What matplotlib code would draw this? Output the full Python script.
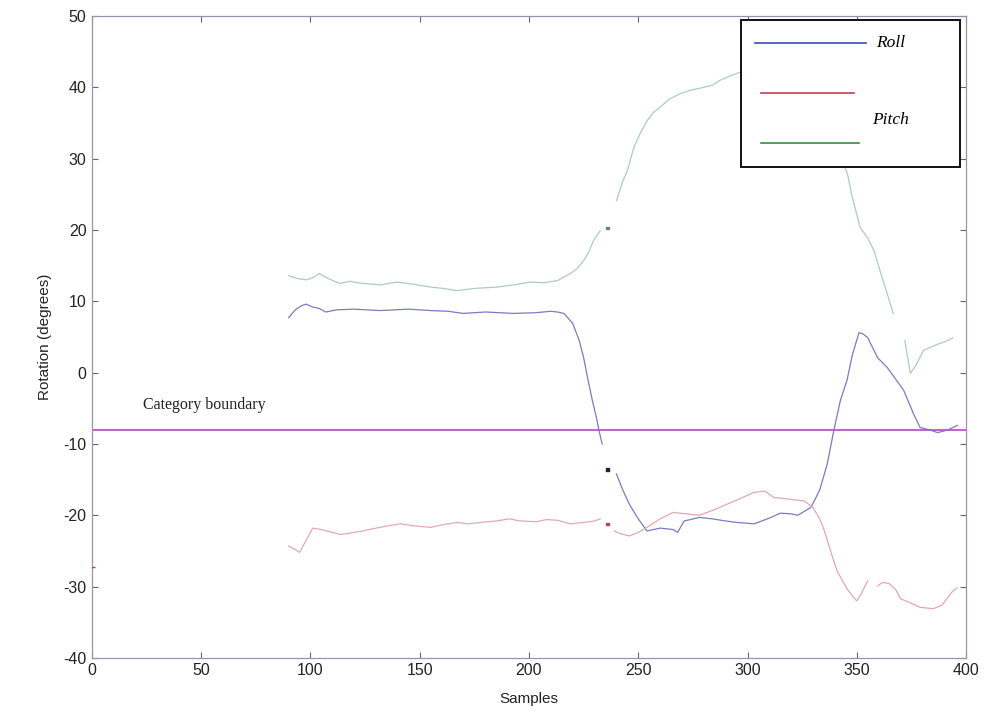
import numpy as np
import matplotlib.pyplot as plt
from matplotlib.patches import Rectangle

plt.rcParams['axes.unicode_minus'] = False
nan = np.nan

# Roll (blue)
roll_x = [90, 93, 96, 98, 101, 104, 107, 112, 120, 132, 145, 155, 163, 170, 180, 193, 203, 210, 213, 216,
          220, 223, 225, 227, 229, 231, 232, 233.5, 236, 240, 243, 246, 250, 254, 260, 266, 268, 271,
          278, 284, 290, 295, 303, 310, 315, 320, 323, 329, 333, 336.5, 339.5, 342.5, 345.5, 348, 351,
          353, 355, 359.5, 364, 368, 371.5, 376, 379, 383, 387, 391, 394, 396]
roll_y = [7.7, 8.8, 9.4, 9.6, 9.2, 9.0, 8.5, 8.8, 8.9, 8.7, 8.9, 8.7, 8.6, 8.3, 8.5, 8.3, 8.4, 8.6, 8.5, 8.3,
          6.9, 4.5, 2.1, -1.0, -3.9, -6.5, -8.1, -10.0, nan, -14.2, -16.5, -18.5, -20.5, -22.2, -21.8, -22.0, -22.4, -20.8,
          -20.3, -20.5, -20.8, -21.0, -21.2, -20.4, -19.7, -19.8, -20.0, -18.9, -16.5, -12.8, -8.1, -3.9, -1.1, 2.5, 5.6,
          5.4, 4.9, 2.1, 0.7, -1.0, -2.5, -5.8, -7.7, -8.0, -8.4, -8.1, -7.7, -7.4]

# Pitch (red)
pitch_x = [90, 93, 95, 98, 101, 105, 110, 113.5, 118, 124, 130, 135, 141, 148, 155, 161, 167, 172, 178,
           185, 191, 196, 203.5, 208, 213, 219, 225, 230, 232.6, 236, 239, 242, 246, 250, 255, 260, 266,
           272, 278, 285, 291, 297, 303, 308, 312, 318, 326, 330, 333, 335, 338, 341, 344, 346, 348.5,
           350, 352, 355, 357, 359.5, 362, 365, 368, 370, 374, 379, 385, 389, 394, 396]
pitch_y = [-24.3, -24.8, -25.2, -23.5, -21.8, -22.0, -22.4, -22.7, -22.5, -22.2, -21.8, -21.5, -21.2, -21.5, -21.7, -21.3, -21.0, -21.2, -21.0,
           -20.8, -20.5, -20.8, -20.9, -20.6, -20.7, -21.2, -21.0, -20.8, -20.5, nan, -22.2, -22.6, -22.9, -22.4, -21.5, -20.5, -19.6,
           -19.8, -20.0, -19.2, -18.4, -17.6, -16.8, -16.6, -17.5, -17.7, -18.0, -18.9, -20.5, -22.0, -25.0, -27.8, -29.5, -30.5, -31.5,
           -32.0, -31.0, -29.2, nan, -29.9, -29.4, -29.6, -30.5, -31.7, -32.2, -32.9, -33.1, -32.6, -30.6, -30.2]

# third axis (green)
yaw_x = [90, 94, 98, 101, 104, 108, 113.5, 118, 124, 132, 139.5, 147, 155, 161, 167, 175, 185.5, 193, 200.5,
         207, 213, 219, 222, 225, 227.5, 229.5, 232.6, 236, 240, 243, 245, 248, 251, 254, 257, 260, 264,
         269, 274, 280, 284, 287.5, 292, 296.5, 305, 315, 325, 335, 340, 345.7, 348, 351.6, 355, 358,
         361, 364, 366.7, 370, 372, 374.5, 377, 380.5, 384, 388, 391, 394]
yaw_y = [13.6, 13.2, 13.0, 13.3, 13.9, 13.2, 12.5, 12.8, 12.5, 12.3, 12.7, 12.4, 12.0, 11.8, 11.5, 11.8, 12.0, 12.3, 12.7,
         12.6, 12.9, 13.9, 14.6, 15.7, 17.0, 18.5, 19.9, nan, 24.1, 26.9, 28.3, 31.6, 33.6, 35.3, 36.5, 37.2, 38.3,
         39.1, 39.6, 40.0, 40.3, 41.0, 41.6, 42.1, 42.5, 42.0, 40.0, 36.0, 32.0, 27.9, 24.5, 20.3, 18.9, 17.0,
         13.9, 11.0, 8.3, nan, 4.5, -0.1, 1.0, 3.1, 3.6, 4.1, 4.4, 4.9]

# isolated samples around the gap
dots_x = [236, 236, 236]
dots_y = [20.3, -13.6, -21.2]
dot_colors = ['#6a8a78', '#202040', '#c04060']

boundary = -8

fig = plt.figure(figsize=(9.91, 7.27), dpi=100)
ax = fig.add_axes([0.0928, 0.095, 0.882, 0.883])

ax.axhline(boundary, color='#c050c8', linewidth=1.3, zorder=2)
ax.plot(yaw_x, yaw_y, color='#aecdbb', linewidth=0.9, zorder=3)
ax.plot(roll_x, roll_y, color='#7b7bc0', linewidth=0.9, zorder=3)
ax.plot(pitch_x, pitch_y, color='#e3a7b7', linewidth=0.9, zorder=3)
ax.scatter(dots_x, dots_y, s=3, c=dot_colors, marker='s', zorder=4)
ax.plot([0], [-27.3], marker='_', color='#c04050', markersize=5, zorder=4)

ax.text(23.5, -4.6, 'Category boundary', family='Liberation Serif', fontsize=11.5,
        va='center', ha='left', color='#222222')

ax.set_xlim(0, 400)
ax.set_ylim(-40, 50)
ax.set_xticks(np.arange(0, 401, 50))
ax.set_yticks(np.arange(-40, 51, 10))
ax.tick_params(direction='in', length=4, top=True, right=True, labelsize=11.5,
               color='#666666', labelcolor='#222222', pad=4)
for lbl in ax.get_xticklabels() + ax.get_yticklabels():
    lbl.set_family('Liberation Sans')
for sp in ax.spines.values():
    sp.set_color('#9a90b0')
    sp.set_linewidth(0.9)

ax.set_xlabel('Samples', family='Liberation Sans', fontsize=11, color='#222222', labelpad=10)
ax.set_ylabel('Rotation (degrees)', family='Liberation Sans', fontsize=11, color='#222222', labelpad=8)

# hand-drawn legend box
tr = ax.transAxes
ax.add_patch(Rectangle((0.743, 0.765), 0.25, 0.229, transform=tr, facecolor='white',
                       edgecolor='#111111', linewidth=1.4, zorder=6))
ax.plot([0.758, 0.885], [0.958, 0.958], transform=tr, color='#3a4fb0', linewidth=1.2, zorder=7)
ax.plot([0.766, 0.872], [0.880, 0.880], transform=tr, color='#c83a50', linewidth=1.2, zorder=7)
ax.plot([0.766, 0.877], [0.802, 0.802], transform=tr, color='#3a8a40', linewidth=1.2, zorder=7)
ax.text(0.897, 0.958, 'Roll', transform=tr, family='Liberation Serif', style='italic',
        fontsize=12.5, va='center', ha='left', zorder=8)
ax.text(0.892, 0.838, 'Pitch', transform=tr, family='Liberation Serif', style='italic',
        fontsize=12.5, va='center', ha='left', zorder=8)

fig.savefig('out.png', dpi=100)
